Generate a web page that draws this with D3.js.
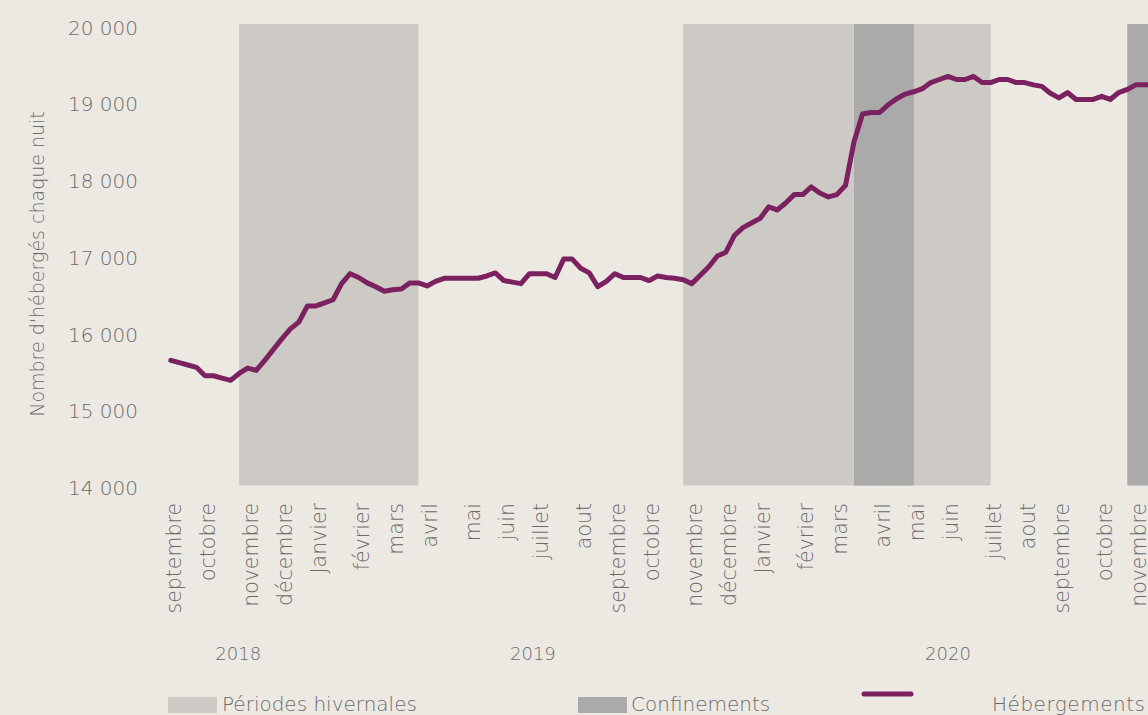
<!DOCTYPE html>
<html>
<head>
<meta charset="utf-8">
<script src="https://cdn.jsdelivr.net/npm/d3@7"></script>
<style>
  html, body { margin: 0; padding: 0; background: #ece8e2; }
  svg { display: block; font-family: "DejaVu Sans ExtraLight", "DejaVu Sans", sans-serif; font-weight: 200; }
  text { fill: #6b6b6b; }
</style>
</head>
<body>
<svg id="chart" width="1148" height="715"></svg>
<script>
// weekly number of people housed each night (sept 2018 -> nov 2020)
const hebergements = [
  15630, 15600, 15570, 15540, 15430, 15430, 15400, 15370, 15460, 15530,
  15500, 15630, 15770, 15910, 16040, 16130, 16340, 16340, 16380, 16420,
  16630, 16760, 16710, 16640, 16590, 16530, 16550, 16560, 16640, 16640,
  16600, 16660, 16700, 16700, 16700, 16700, 16700, 16730, 16770, 16670,
  16650, 16630, 16760, 16760, 16760, 16710, 16950, 16950, 16830, 16770,
  16590, 16660, 16760, 16710, 16710, 16710, 16670, 16730, 16710, 16700,
  16680, 16630, 16740, 16850, 16990, 17040, 17260, 17360, 17420, 17480,
  17630, 17590, 17680, 17790, 17790, 17890, 17810, 17760, 17790, 17910,
  18480, 18840, 18860, 18860, 18960, 19040, 19100, 19130, 19170, 19250,
  19290, 19330, 19290, 19290, 19330, 19250, 19250, 19290, 19290, 19250,
  19250, 19220, 19200, 19110, 19050, 19120, 19030, 19030, 19030, 19070,
  19030, 19120, 19160, 19220, 19220, 19220
];

// month labels and the week where each one sits
const monthLabels = ["septembre", "octobre", "novembre", "décembre", "Janvier", "février", "mars",
  "avril", "mai", "juin", "juillet", "aout", "septembre", "octobre", "novembre", "décembre",
  "Janvier", "février", "mars", "avril", "mai", "juin", "juillet", "aout", "septembre",
  "octobre", "novembre"];
const monthWeeks = [0, 4, 9, 13, 17, 22, 26, 30, 35, 39, 43, 48, 52, 56, 61, 65, 69, 74, 78,
  83, 87, 91, 96, 100, 104, 109, 113];

const yearLabels = ["2018", "2019", "2020"];
const yearWeeks = [7.9, 42.4, 91];

// shaded periods, as [first week, last week]
const hivernales = [[8, 29], [60, 96]];
const confinements = [[80, 87], [112, 117]];

const yTicks = [14000, 15000, 16000, 17000, 18000, 19000, 20000];

const svg = d3.select("#chart");

const x = d3.scaleLinear().domain([0, 115]).range([170.8, 170.8 + 8.54 * 115]);
const y = d3.scaleLinear().domain([14000, 20000]).range([485.5, 25]);

const fr = d3.formatLocale({ decimal: ",", thousands: "\u00a0", grouping: [3], currency: ["", " €"] });

// background periods
svg.append("g").selectAll("rect")
  .data(hivernales)
  .join("rect")
  .attr("x", d => x(d[0]))
  .attr("width", d => x(d[1]) - x(d[0]))
  .attr("y", y(20000) - 1)
  .attr("height", y(14000) - y(20000) + 1)
  .attr("fill", "#cdcac5");

svg.append("g").selectAll("rect")
  .data(confinements)
  .join("rect")
  .attr("x", d => x(d[0]))
  .attr("width", d => x(d[1]) - x(d[0]))
  .attr("y", y(20000) - 1)
  .attr("height", y(14000) - y(20000) + 1)
  .attr("fill", "#aaaaaa");

// y axis
const yAxis = svg.append("g")
  .attr("transform", "translate(146,0)")
  .call(d3.axisLeft(y).tickValues(yTicks).tickSize(0).tickPadding(8).tickFormat(fr.format(",d")))
  .attr("font-family", null)
  .attr("font-size", 20);
yAxis.select(".domain").remove();
yAxis.selectAll("text")
  .attr("fill", "#6b6b6b")
  .attr("dy", "0.45em");

svg.append("text")
  .attr("transform", "translate(37,264) rotate(-90)")
  .attr("text-anchor", "middle")
  .attr("dy", "0.35em")
  .attr("font-size", 19)
  .text("Nombre d'hébergés chaque nuit");

// month labels
svg.append("g").selectAll("text")
  .data(monthLabels)
  .join("text")
  .attr("transform", (d, i) => `translate(${x(monthWeeks[i] + 0.5)},503) rotate(-90)`)
  .attr("text-anchor", "end")
  .attr("dy", "0.3em")
  .attr("font-size", 20.5)
  .text(d => d);

// year labels
svg.append("g").selectAll("text")
  .data(yearLabels)
  .join("text")
  .attr("x", (d, i) => x(yearWeeks[i]))
  .attr("y", 660)
  .attr("text-anchor", "middle")
  .attr("font-size", 18)
  .text(d => d);

// line
const line = d3.line()
  .x((d, i) => x(i))
  .y(d => y(d));

svg.append("path")
  .datum(hebergements)
  .attr("d", line)
  .attr("fill", "none")
  .attr("stroke", "#7c2160")
  .attr("stroke-width", 5)
  .attr("stroke-linejoin", "round")
  .attr("stroke-linecap", "round");

// legend
const legend = svg.append("g").attr("font-size", 20);
legend.append("rect").attr("x", 168).attr("y", 697).attr("width", 49).attr("height", 16).attr("fill", "#cdcac5");
legend.append("text").attr("x", 222).attr("y", 711).text("Périodes hivernales");
legend.append("rect").attr("x", 578).attr("y", 697).attr("width", 49).attr("height", 16).attr("fill", "#aaaaaa");
legend.append("text").attr("x", 631).attr("y", 711).text("Confinements");
legend.append("line").attr("x1", 864).attr("x2", 911).attr("y1", 694).attr("y2", 694)
  .attr("stroke", "#7c2160").attr("stroke-width", 5).attr("stroke-linecap", "round");
legend.append("text").attr("x", 992).attr("y", 711).attr("textLength", 153).text("Hébergements");
</script>
</body>
</html>
